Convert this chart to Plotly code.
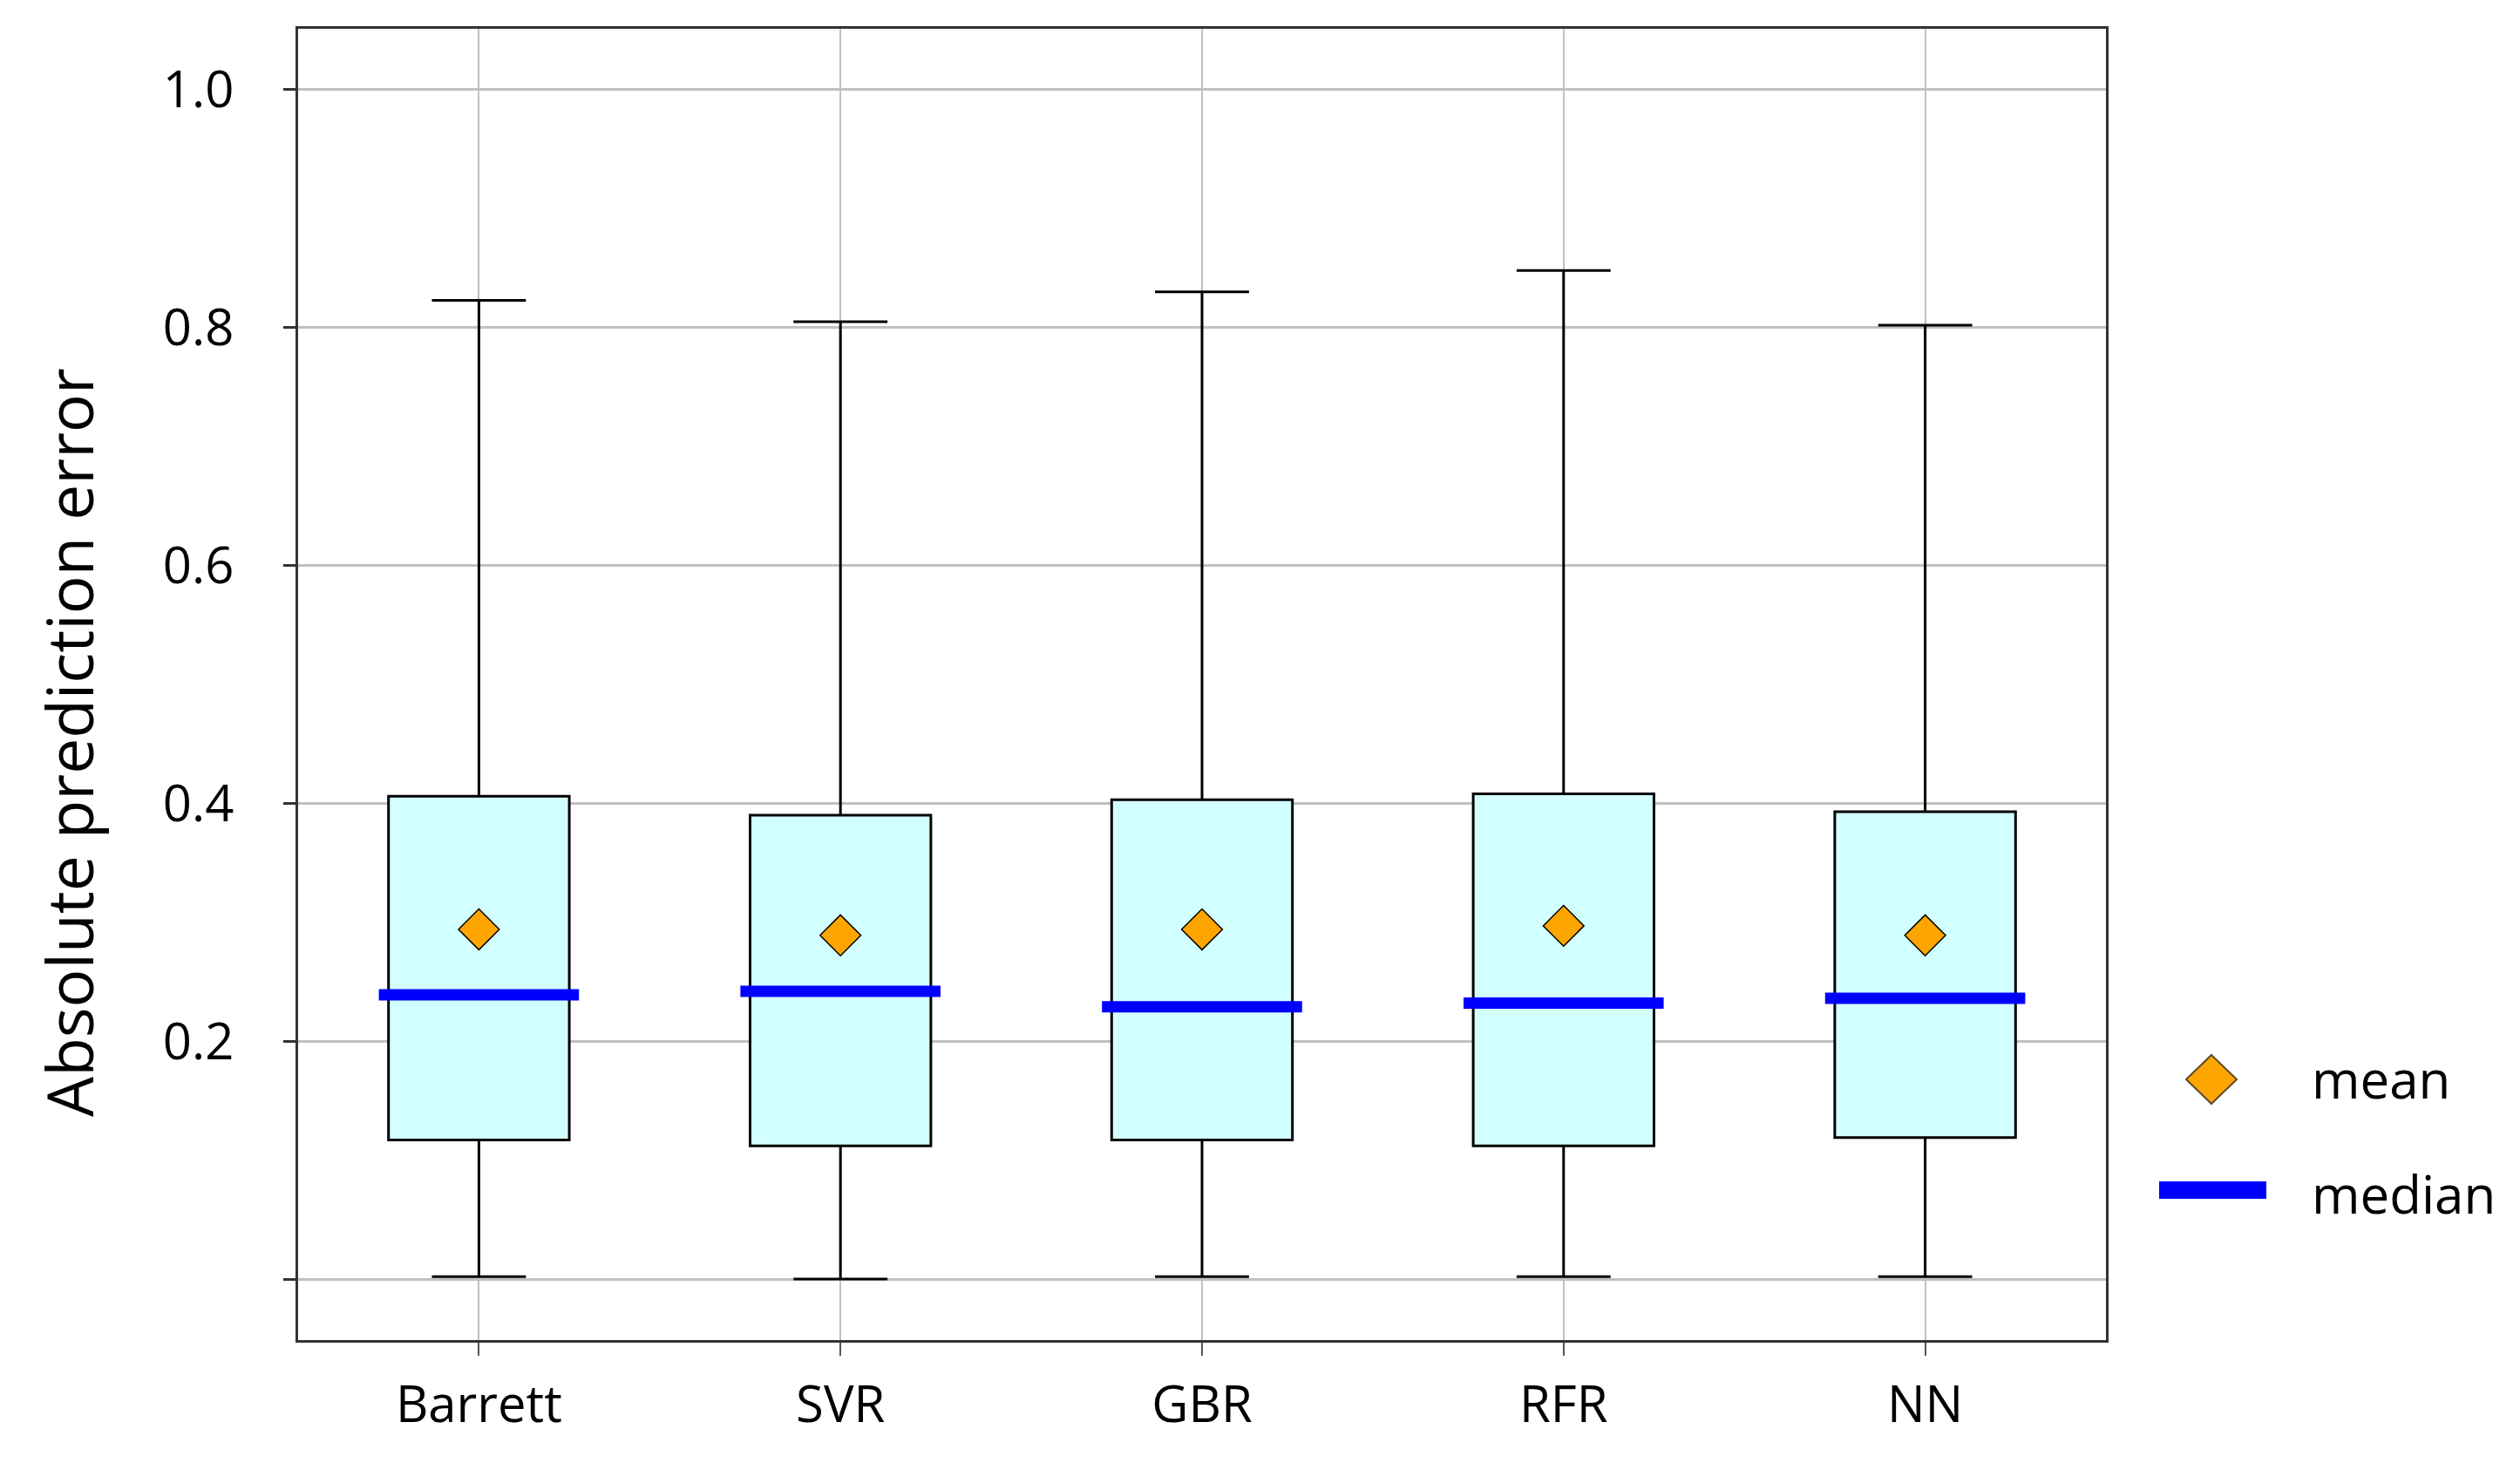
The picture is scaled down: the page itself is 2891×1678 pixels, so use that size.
import plotly.graph_objects as go

# ---- data ----
categories = ["Barrett", "SVR", "GBR", "RFR", "NN"]
lower_whisker = [0.002, 0.000, 0.002, 0.002, 0.002]
q1_values = [0.117, 0.112, 0.117, 0.112, 0.119]
median_values = [0.239, 0.242, 0.229, 0.232, 0.236]
q3_values = [0.406, 0.390, 0.403, 0.408, 0.393]
upper_whisker = [0.823, 0.805, 0.830, 0.848, 0.802]
mean_values = [0.294, 0.289, 0.294, 0.297, 0.289]

y_tickvals = [0.0, 0.2, 0.4, 0.6, 0.8, 1.0]
y_ticktext = ["", "0.2", "0.4", "0.6", "0.8", "1.0"]
y_title = "Absolute prediction error"
legend_labels = ["mean", "median"]

FONT = "Open Sans"
BOX_FILL = "#D2FFFF"
MEAN_COLOR = "#FFA500"
MEDIAN_COLOR = "#0000FF"
GRID = "#C0C0C0"

# the page body has an 8px default margin; size the figure to fit the window
OFF = 8
W, H = 2891 - 2 * OFF, 1678 - 2 * OFF
PLOT_L, PLOT_R, PLOT_T, PLOT_B = 342, 2416, 33, 1537   # window pixels
L = PLOT_L - OFF
T = PLOT_T - OFF
R = W - (PLOT_R - OFF)
B = H - (PLOT_B - OFF)

fig = go.Figure()

fig.add_trace(go.Box(
    x=categories,
    q1=q1_values,
    median=median_values,
    q3=q3_values,
    lowerfence=lower_whisker,
    upperfence=upper_whisker,
    fillcolor=BOX_FILL,
    line=dict(color="black", width=3),
    width=0.5,
    whiskerwidth=0.52,
    boxpoints=False,
    showlegend=False,
    hoverinfo="skip",
))

fig.add_trace(go.Scatter(
    x=categories,
    y=median_values,
    mode="markers",
    marker=dict(symbol="line-ew", size=164,
                line=dict(color=MEDIAN_COLOR, width=13)),
    showlegend=False,
    hoverinfo="skip",
))

fig.add_trace(go.Scatter(
    x=categories,
    y=mean_values,
    mode="markers",
    marker=dict(symbol="diamond", size=36, color=MEAN_COLOR,
                line=dict(color="black", width=1.5)),
    showlegend=False,
    hoverinfo="skip",
))

# ---- custom legend (right of plot) ----
def px_to_paper_x(px):
    return (px - PLOT_L) / (PLOT_R - PLOT_L)

def px_to_paper_y(py):
    return (PLOT_B - py) / (PLOT_B - PLOT_T)

legend_diamond_x = px_to_paper_x(2537)
legend_diamond_y = px_to_paper_y(1238)
legend_line_y = px_to_paper_y(1365)
legend_text_x = px_to_paper_x(2650)

fig.add_shape(
    type="path", xref="paper", yref="paper",
    xsizemode="pixel", ysizemode="pixel",
    xanchor=legend_diamond_x, yanchor=legend_diamond_y,
    path="M 0 28 L 29 0 L 0 -28 L -29 0 Z",
    fillcolor=MEAN_COLOR, line=dict(color="#5a4a2a", width=2),
)
fig.add_shape(
    type="line", xref="paper", yref="paper",
    x0=px_to_paper_x(2477), x1=px_to_paper_x(2600),
    y0=legend_line_y, y1=legend_line_y,
    line=dict(color=MEDIAN_COLOR, width=20),
)
fig.add_annotation(
    x=legend_text_x, y=px_to_paper_y(1237), xref="paper", yref="paper",
    text=legend_labels[0], showarrow=False, xanchor="left", yanchor="middle",
    font=dict(family=FONT, size=60, color="black"),
)
fig.add_annotation(
    x=legend_text_x, y=px_to_paper_y(1369), xref="paper", yref="paper",
    text=legend_labels[1], showarrow=False, xanchor="left", yanchor="middle",
    font=dict(family=FONT, size=60, color="black"),
)

# ---- y-axis title ----
fig.add_annotation(
    x=px_to_paper_x(78), y=px_to_paper_y(852), xref="paper", yref="paper",
    text=y_title, showarrow=False, textangle=-90,
    xanchor="center", yanchor="middle",
    font=dict(family=FONT, size=73, color="black"),
)

fig.update_layout(
    width=W, height=H, autosize=False,
    margin=dict(l=L, r=R, t=T, b=B, pad=0),
    paper_bgcolor="white", plot_bgcolor="white",
    showlegend=False,
    font=dict(family=FONT, size=58, color="black"),
)

fig.update_xaxes(
    type="category",
    categoryorder="array", categoryarray=categories,
    range=[-0.5, 4.5],
    showgrid=True, gridcolor=GRID, gridwidth=2,
    showline=True, linecolor="#333333", linewidth=3, mirror=True,
    ticks="outside", ticklen=15, tickwidth=1.5, tickcolor="#555555",
    tickfont=dict(family=FONT, size=58, color="black"),
    ticklabelstandoff=6,
    zeroline=False,
)

fig.update_yaxes(
    range=[-0.0513, 1.0513],
    tickmode="array", tickvals=y_tickvals, ticktext=y_ticktext,
    showgrid=True, gridcolor=GRID, gridwidth=3,
    showline=True, linecolor="#333333", linewidth=3, mirror=True,
    ticks="outside", ticklen=14, tickwidth=3, tickcolor="#333333",
    tickfont=dict(family=FONT, size=58, color="black"),
    ticklabelstandoff=45,
    zeroline=False,
)

fig.write_html("out.html")
